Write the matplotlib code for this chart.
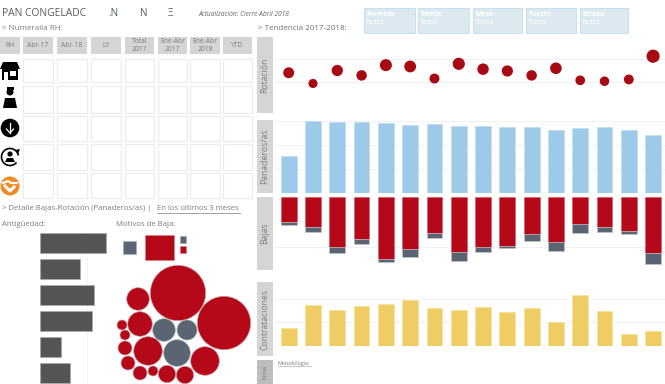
import matplotlib
matplotlib.use("Agg")
import matplotlib.pyplot as plt
from matplotlib.patches import Rectangle, Circle, Polygon, Arc

plt.rcParams['font.family'] = ['Open Sans', 'DejaVu Sans']

W = 665; H = 384
GRID = "#f1f1f1"; LBL = "#d5d5d5"; TXT = "#7d7d7d"; DARK = "#555555"
RED = "#b50819"; SLATE = "#5a6472"; BLUE = "#9ecae9"; YEL = "#f0cd64"

months = ["Ene-17", "Feb-17", "Mar-17", "Abr-17", "May-17", "Jun-17", "Jul-17", "Ago-17",
          "Sep-17", "Oct-17", "Nov-17", "Dic-17", "Ene-18", "Feb-18", "Mar-18", "Abr-18"]
rotacion = [7.0, 4.6, 7.5, 6.4, 8.7, 8.4, 5.7, 9.0, 7.8, 7.4, 6.4, 8.0, 5.3, 5.1, 5.5, 10.7]
panaderos = [780, 1515, 1485, 1485, 1465, 1435, 1445, 1400, 1395, 1380, 1380, 1315, 1360, 1375, 1330, 1225]
bajas_a = [25, 30, 50, 42, 62, 52, 36, 55, 50, 49, 37, 45, 27, 30, 34, 56]
bajas_b = [3, 5, 6, 5, 3, 8, 5, 9, 5, 2, 7, 9, 9, 5, 3, 11]
contrataciones = [15, 35, 31, 34, 36, 39, 32, 31, 33, 29, 32, 20, 43, 30, 10, 13]

headers = ["RH", "Abr-17", "Abr-18", "LY", "Total\n2017", "Ene-Abr\n2017", "Ene-Abr\n2018", "YTD"]
filtros = ["Formato:", "Tienda:", "Mesa:", "Puesto:", "Estado:"]
antiguedad = [66, 40, 54, 52, 21, 30]
# burbujas de motivos de baja (x, y, radio en px)
burbuja_x = [178, 224, 138, 140, 122, 125, 125, 148, 164, 187, 177, 205, 128, 140, 153, 167, 185]
burbuja_y = [293, 323, 299, 324, 325, 335, 348, 351, 330, 330, 353, 361, 363, 373, 371, 374, 375]
burbuja_r = [27.7, 26.7, 11.3, 12.3, 5, 5, 7, 14.3, 11.3, 10, 13.3, 14.3, 7, 7, 5, 8.7, 8.7]
burbuja_tipo = [0, 0, 0, 0, 0, 0, 0, 0, 1, 1, 1, 0, 0, 0, 0, 0, 0]

fig = plt.figure(figsize=(6.65, 3.84), dpi=100)
bg = fig.add_axes([0, 0, 1, 1]); bg.set_xlim(0, W); bg.set_ylim(H, 0); bg.axis("off")

def px_axes(l, t, r, b):
    a = fig.add_axes([l / W, 1 - b / H, (r - l) / W, (b - t) / H])
    a.patch.set_alpha(0)
    for s in a.spines.values():
        s.set_visible(False)
    a.tick_params(length=0, labelbottom=False, labelleft=False)
    a.set_axisbelow(True)
    return a

def box(x0, y0, x1, y1, fc, ec="none", lw=0.8):
    bg.add_patch(Rectangle((x0, y0), x1 - x0, y1 - y0, fc=fc, ec=ec, lw=lw))

# encabezado
bg.text(2, 14, "PAN CONGELADC", color="#555b63", fontsize=7.4, va="center")
bg.text(108, 14, ".N", color="#555b63", fontsize=7, va="center")
bg.text(140, 14, "N", color="#555b63", fontsize=7, va="center")
bg.text(168, 14, "Ξ", color="#555b63", fontsize=7, va="center")
bg.text(198, 14, "Actualización: Cierre Abril 2018", color="#666666", fontsize=4.8, style="italic", va="center")
bg.text(2, 29, "> Numeralia RH:", color=TXT, fontsize=5.8, va="center")
bg.text(258, 29, "> Tendencia 2017-2018:", color="#707070", fontsize=5.8, va="center")

# filtros
fx0 = [364, 418, 473, 526, 580]; fx1 = [415, 469, 522, 576, 628]
for a, b, t in zip(fx0, fx1, filtros):
    box(a, 8, b, 33, "#dce9f0", "#c8e0ef")
    bg.text(a + 2, 15, t, color="white", fontsize=4.8, fontweight="bold", va="center")
    bg.text(a + 2, 23, "Todos", color="white", fontsize=4.8, va="center")

# tabla
cx0 = [0, 23, 57, 91, 125, 158, 190, 223]; cx1 = [20, 53, 87, 121, 154, 187, 220, 252]
for a, b, t in zip(cx0, cx1, headers):
    box(a, 37, b, 54, LBL)
    bg.text((a + b) / 2, 45.5, t, color=TXT, fontsize=4.9, ha="center", va="center", linespacing=1.15)
ry0 = [59, 86, 116, 144, 173]; ry1 = [82, 113, 141, 170, 198]
for t, b in zip(ry0, ry1):
    for a, c in zip(cx0[1:], cx1[1:]):
        box(a, t, c, b, "white", "#ececec", 0.9)

# iconos de la primera columna
bg.add_patch(Polygon([(3, 62), (17, 62), (20, 69), (0, 69)], fc="black"))
box(2, 69, 18, 80, "black")
box(10, 71, 16, 76, "white"); box(4, 72, 8, 80, "white")
bg.add_patch(Circle((10, 92), 3.5, fc="black"))
box(6.5, 87, 13.5, 90, "black")
bg.add_patch(Polygon([(3, 108), (5, 98), (15, 98), (17, 108)], fc="black"))
bg.add_patch(Circle((10, 128), 9.3, fc="black"))
bg.plot([10, 10], [123, 133], color="white", lw=0.9)
bg.plot([6.5, 10, 13.5], [129, 133, 129], color="white", lw=0.9)
bg.add_patch(Arc((10, 157), 17, 17, theta1=-320, theta2=-10, color="black", lw=1.2))
bg.add_patch(Polygon([(15, 150), (20, 149), (18, 154)], fc="black"))
bg.add_patch(Circle((10, 154), 2.6, fc="black"))
bg.add_patch(Polygon([(5, 162), (7, 158), (13, 158), (15, 162)], fc="black"))
bg.add_patch(Circle((10, 186), 9.5, fc="#f08a24"))
bg.plot([3, 8, 11, 17], [183, 181, 183, 183], color="white", lw=1.6)
bg.plot([5, 10, 14], [186, 191, 187], color="white", lw=2.2)

# seccion inferior izquierda
bg.text(2, 209, "> Detalle Bajas-Rotación (Panaderos/as) | ", color=TXT, fontsize=5.6, va="center")
bg.text(157, 209, "En los últimos 3 meses", color=TXT, fontsize=5.6, va="center")
bg.plot([157, 240], [212.5, 212.5], color=TXT, lw=0.5)
bg.text(2, 225, "Antigüedad:", color=TXT, fontsize=5.6, va="center")
bg.text(116, 225, "Motivos de Baja:", color=TXT, fontsize=5.6, va="center")

ax = px_axes(40, 232, 111, 384)
pos = range(len(antiguedad))
ax.barh(pos, antiguedad, height=0.74, color=DARK, edgecolor="#aaaaaa", lw=0.5)
ax.set_xlim(0, 71); ax.set_ylim(5.42, -0.42)
ax.set_xticks([47, 71]); ax.grid(axis="x", color=GRID, lw=0.6)

# leyenda de motivos
box(123, 241, 136, 254, SLATE, "#a5adb6", 0.5)
box(144.5, 235, 174, 260, RED, "#d9808a", 0.5)
box(179.5, 235.5, 186, 242.5, SLATE, "#a5adb6", 0.5)
box(179.5, 246, 186, 252.5, RED, "#d9808a", 0.5)
for x, y, r, k in zip(burbuja_x, burbuja_y, burbuja_r, burbuja_tipo):
    bg.add_patch(Circle((x, y), r, fc=SLATE if k else RED, ec="#9fb0b5" if k else "#c9a0a5", lw=0.5))

# etiquetas de panel
px0 = [37, 120, 197, 282]; px1 = [113, 193, 270, 356]
for a, b, t in zip(px0, px1, ["Rotación", "Panaderos/as", "Bajas", "Contrataciones"]):
    box(257, a, 273, b, LBL)
    bg.text(265, (a + b) / 2, t, color=TXT, fontsize=6.2, rotation=90, ha="center", va="center")
box(257, 360, 273, 384, "#bdbdbd")
bg.text(265, 372, "Notas", color="#777777", fontsize=3.8, rotation=90, ha="center", va="center")
bg.text(278, 364, "Metodología:", color="#777777", fontsize=3.9, va="center")
bg.plot([278, 311], [366, 366], color="#9a9ab0", lw=0.4)

x = range(len(months))
xlim = (-0.564, 15.49)

ax = px_axes(275, 37, 665, 104)
ax.scatter(x, rotacion, s=[v * 6.7 for v in rotacion], color="#a80a12", zorder=3, clip_on=False)
ax.set_xlim(*xlim); ax.set_ylim(0, 15)
ax.set_yticks([0, 5, 10]); ax.grid(axis="y", color=GRID, lw=0.7)

ax = px_axes(275, 120.5, 665, 192.7)
ax.bar(x, panaderos, width=0.65, color=BLUE, edgecolor="#c4def2", lw=0.7)
ax.set_xlim(*xlim); ax.set_ylim(0, 1520)
ax.set_yticks([0, 500, 1000, 1500]); ax.grid(axis="y", color=GRID, lw=0.7)

ax = px_axes(275, 197, 665, 270)
ax.bar(x, bajas_a, width=0.65, color=RED, edgecolor="#cf5a66", lw=0.4)
ax.bar(x, bajas_b, bottom=bajas_a, width=0.65, color=SLATE, edgecolor="#c5cad0", lw=0.4)
ax.set_xlim(*xlim); ax.set_ylim(73, 0)
ax.set_yticks([50]); ax.grid(axis="y", color=GRID, lw=0.7)

ax = px_axes(275, 283, 665, 346)
ax.bar(x, contrataciones, width=0.65, color=YEL, edgecolor="#f8e3a0", lw=0.7)
ax.set_xlim(*xlim); ax.set_ylim(0, 53.6)
ax.set_yticks([0, 20, 40]); ax.grid(axis="y", color=GRID, lw=0.7)

plt.savefig("out.png", dpi=100, facecolor="white")
